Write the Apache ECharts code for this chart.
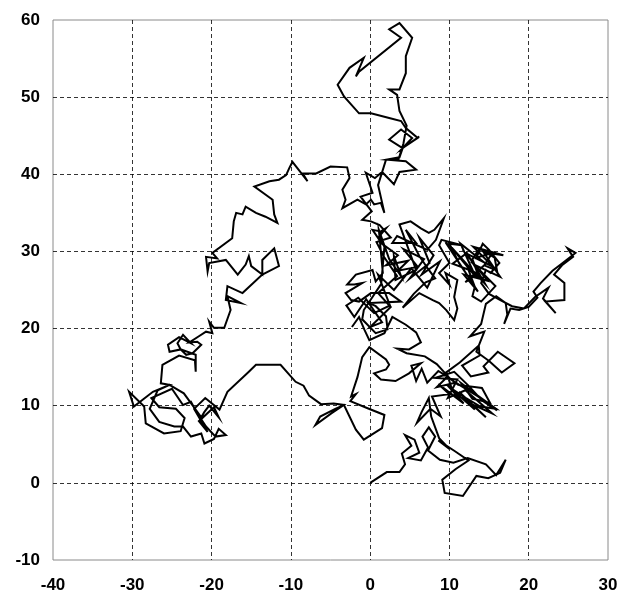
<!DOCTYPE html>
<html>
<head>
<meta charset="utf-8">
<script src="https://cdn.jsdelivr.net/npm/echarts@6/dist/echarts.min.js"></script>
<style>
html,body{margin:0;padding:0;background:#fff;}
#chart{width:623px;height:597px;}
</style>
</head>
<body>
<div id="chart"></div>
<script>
// Axis ranges / ticks
var xTicks = [-40, -30, -20, -10, 0, 10, 20, 30];
var yTicks = [-10, 0, 10, 20, 30, 40, 50, 60];

// Random-walk path, in walk order (x, y)
var segStart = [
  [0,0],[2.1,1.4],[3.7,1.4],[4.4,2.4],[4.0,3.8],[5.2,4.8],[4.4,6.2],[5.6,5.6],[6.2,3.9],[4.8,3.2],
  [6.4,2.9],[7.3,4.6],[6.6,6.0],[7.4,7.2],[8.2,6.0],[7.3,4.2],[8.8,3.0],[10.5,2.6],[12.3,3.2],[14.6,2.4],
  [15.9,1.0],[17.1,3.0],[16.4,1.3],[14.9,0.6],[13.4,0.9],[11.7,-1.7],[9.4,-1.3],[9.1,0.4],[10.8,1.8],[12.4,2.9],
  [10.7,4.1],[8.6,5.5],[10.0,4.4],[8.7,5.8],[7.7,8.6],[7.4,11.0],[6.5,9.2],[5.9,7.8],[7.6,9.6],[8.9,8.6],[7.8,11.2]
];
var segBandDense = [
  [10.0,11.5],[8.6,12.8],[11.8,10.3],[9.7,12.7],[13.2,9.5],[11.2,11.8],[14.6,8.5],[12.8,10.2],[15.4,9.0],[12.0,12.0],
  [9.8,11.0],[11.0,13.4],[8.2,13.6],[10.6,14.4],[12.4,12.6],[14.2,10.6],[16.0,9.4],[13.6,11.2],[10.8,13.0]
];
var segMidBand = [
  [8.4,12.4],[9.8,13.8],[10.3,12.2],[12.1,11.0],[13.9,9.9],[15.9,9.6],[13.3,11.5],[11.5,12.9],[12.9,10.9],[15.1,10.4],
  [14.1,12.3],[11.1,12.7],[9.3,14.1],[11.3,15.6],[13.7,17.8],[13.8,16.5],[11.6,15.2],[12.7,13.8],[14.9,14.3],[14.3,15.1],
  [16.1,17.0],[18.2,15.5],[16.6,14.3],[15.0,15.8],[13.4,17.0],[14.4,19.6],[12.6,19.0],[14.0,20.6],[14.6,23.2],[15.9,24.2],
  [17.1,23.3],[17.3,21.8],[16.9,20.6],[17.7,22.6]
];
var segFarRight = [
  [18.8,22.4],[20.0,22.8],[21.1,24.0],[20.6,24.8],[21.5,25.9],[23.0,27.5],[24.4,28.6],[25.9,29.8],[24.9,30.4],[25.6,29.3],
  [24.2,28.2],[23.2,27.0],[24.5,25.9],[24.5,23.7],[22.1,23.5],[23.4,22.0],[21.8,23.9],[22.5,25.3],[20.8,24.1],[19.4,22.6],
  [17.9,22.9],[16.6,23.6]
];
var segRightCluster = [
  [15.0,24.5],[14.0,25.9],[14.6,27.6],[15.2,27.2],[16.3,28.5],[15.0,30.2],[14.2,31.0],[13.4,29.2],[15.4,29.8],[14.4,28.2],
  [16.0,27.5],[15.7,29.2],[13.8,30.4],[12.9,29.0],[13.6,27.0],[12.3,27.9],[13.2,25.4],[12.9,24.2],[14.0,23.5],[15.8,25.5],
  [13.1,28.3],[16.4,26.7],[14.3,29.9],[16.8,29.5],[13.0,30.6],[15.5,28.0],[12.0,29.8],[14.8,26.2],[11.8,27.0],[13.6,24.8],
  [9.5,31.2],[12.5,28.0],[10.3,30.5],[13.4,26.6],[11.0,29.6],[14.5,25.8],[12.2,29.8],[10.4,28.4],[13.0,27.4],[11.4,31.0],
  [14.6,28.4],[12.0,26.0],[12.6,26.4],[11.2,28.5],[10.0,31.0],[11.6,30.8],[9.0,31.5],[8.7,30.8]
];
var segCenter = [
  [10.0,28.5],[8.7,27.2],[10.0,25.7],[9.5,27.2],[11.0,26.3],[10.6,24.1],[11.0,22.6],[10.6,21.1],[9.6,22.4],[8.7,23.3],
  [7.9,23.7],[6.2,24.6],[4.1,22.7],[5.5,24.5],[7.0,26.0],[8.2,26.5],[7.4,27.6],[6.2,29.4],[4.5,32.8],[5.8,31.1],
  [2.8,31.1],[3.4,32.0],[7.2,30.2],[8.3,31.5],[9.3,34.3],[8.1,32.8],[7.4,32.4],[6.4,33.0],[5.1,33.9],[3.7,33.5],
  [5.8,27.6],[3.2,26.3],[3.0,29.4],[3.9,26.8],[2.4,29.0],[1.1,32.8],[1.6,27.2],[0.7,26.1],[0.3,27.6],[-1.8,27.0],
  [-2.9,25.7],[-2.0,25.7],[-1.0,25.9],[-3.1,24.6],[-2.4,23.7],[-1.4,23.5],[0.1,24.6],[2.4,24.6],[3.9,23.5],[-0.1,23.3],
  [0.7,22.9],[2.0,21.6],[2.2,19.9],[0.7,19.4],[-1.0,21.2],[-0.8,22.4],[1.4,25.8],[1.8,30.6],[1.1,31.9],[2.0,33.0],
  [1.35,32.6],[0.3,32.8]
];
var segCenterDense = [
  [1.5,31.0],[3.5,29.5],[2.0,28.2],[4.8,28.8],[3.5,27.5],[6.0,28.0],[4.2,30.3],[6.8,29.0],[5.0,26.5],[7.5,28.5],
  [6.2,31.8],[8.0,29.5],[6.5,27.0],[8.8,28.7],[7.2,25.3],[5.2,27.8],[3.0,25.0],[1.0,27.0],[2.5,23.0],[0.5,22.0],
  [-1.5,24.0],[-3.0,23.0],[-2.0,21.5],[-0.5,23.8],[1.5,20.8],[0.0,20.2],[2.6,22.8],[1.0,24.6],[3.4,26.8],[1.8,29.2],
  [0.8,31.2],[2.6,31.8],[1.2,33.4]
];
var segTop = [
  [0.1,33.9],[-1.0,34.1],[0.2,35.2],[-1.2,37.1],[0.3,37.6],[-0.55,40.2],[0.6,39.5],[1.5,40.3],[3.0,38.7],[3.7,40.3],
  [5.8,40.6],[4.5,41.7],[2.1,41.9],[3.7,42.2],[4.1,43.4],[2.4,44.5],[3.9,45.8],[5.3,44.7],[4.1,43.4],[6.2,44.9],
  [4.4,43.6],[6.0,44.7],[4.5,46.0],[3.9,46.9],[2.4,47.3],[0.1,47.9],[-1.4,47.9],[-3.3,50.1],[-4.1,51.6],[-2.6,53.8],
  [-0.8,55.1],[-1.8,52.7],[-1.4,53.3],[3.9,57.7],[2.4,58.8],[3.7,59.6],[5.3,57.7],[4.5,55.3],[4.5,53.1],[3.7,51.0],
  [2.4,51.0],[3.4,50.3],[3.7,48.2],[4.6,46.3],[4.2,44.0],[3.6,42.0],[2.0,41.9],[1.0,38.6],[1.8,35.0],[1.35,36.3],
  [0.5,36.1],[0.1,36.7],[-0.55,36.1],[-1.6,36.7],[-3.5,35.6],[-3.1,36.7],[-3.5,38.0],[-2.6,39.5],[-2.9,40.9]
];
var segLeftArch = [
  [-5.0,41.0],[-6.8,40.1],[-8.5,40.1],[-7.9,39.1],[-9.8,41.6],[-10.2,40.8],[-10.6,39.9],[-11.5,39.3],[-12.7,39.1],[-14.6,38.4],
  [-12.3,36.7],[-12.1,34.8],[-11.7,33.7],[-13.2,34.5],[-14.4,35.0],[-15.7,35.8],[-16.1,34.8],[-16.9,35.0],[-17.2,33.9],[-17.4,31.7],
  [-19.9,29.8],[-19.3,29.1],[-20.7,29.3],[-20.5,27.4],[-20.3,28.5],[-18.2,28.9],[-16.7,27.0],[-15.7,28.3],[-15.3,29.4],[-15.0,28.1],
  [-13.6,27.0],[-13.6,28.9],[-12.1,30.4],[-11.5,28.1],[-13.6,27.0],[-16.1,24.6],[-18.0,25.5],[-18.2,23.7],[-16.3,23.3],[-18.0,24.2],
  [-17.6,22.4],[-18.4,20.1],[-19.7,20.1],[-20.3,20.9],[-19.9,19.4],[-20.7,19.6],[-21.6,19.0]
];
var segBottomLeft = [
  [-22.8,18.2],[-21.8,18.3],[-21.3,17.9],[-22.4,16.8],[-23.2,16.6],[-23.9,17.3],[-24.3,18.1],[-23.6,19.2],[-22.6,18.1],[-24.1,18.9],
  [-25.5,17.9],[-25.3,17.0],[-23.9,17.3],[-22.0,16.6],[-22.0,14.4],[-22.1,15.9],[-24.1,16.5],[-26.2,15.3],[-26.4,12.9],[-25.3,12.7],
  [-27.4,11.8],[-29.8,9.9],[-30.4,11.8],[-28.5,9.9],[-28.3,7.7],[-26.0,6.4],[-23.9,6.7],[-23.4,8.4],[-24.5,9.6],[-26.6,9.8],
  [-27.6,11.0],[-25.0,12.2],[-23.6,10.1],[-22.6,10.5],[-21.8,9.0],[-20.7,7.3],[-19.5,6.0],[-18.2,6.2],[-19.1,7.0],[-19.7,5.7],
  [-20.9,5.1],[-21.3,6.4],[-22.6,6.0],[-23.6,7.3],[-24.7,7.3],[-26.6,7.9],[-27.8,9.6],[-26.8,12.0],[-25.3,12.7],[-23.5,11.6],
  [-21.3,8.5],[-20.9,9.2],[-20.3,10.0],[-19.1,8.5],[-19.7,9.8],[-21.6,8.0],[-20.5,6.6],[-22.2,9.6],[-20.8,11.0],[-19.0,9.5],
  [-18.0,11.8],[-15.3,14.4],[-14.4,15.3],[-11.3,15.3],[-9.4,13.1]
];
var segEnd = [
  [-8.4,12.6],[-7.7,11.3],[-6.2,10.2],[-4.6,10.3],[-3.3,10.1],[-4.9,9.0],[-6.9,7.5],[-6.3,8.6],[-4.4,9.6],[-3.3,10.1],
  [-1.8,6.9],[-0.8,5.6],[1.5,7.1],[1.8,8.8],[-0.4,9.7],[-2.5,10.6],[-1.8,11.5],[-2.4,11.2],[-1.6,13.7],[-1.0,16.3],
  [-0.1,17.6],[2.0,16.0],[2.4,15.3],[2.0,14.7],[0.5,14.2],[1.35,13.4],[3.2,13.2],[4.9,14.2],[6.4,15.5],[5.2,15.2],
  [5.8,13.2],[6.5,14.8],[7.2,13.0],[8.6,14.5],[10.0,13.6],[8.4,15.4],[6.9,16.4],[4.6,16.8],[3.4,17.4],[4.9,17.3],
  [6.4,18.2],[5.8,19.5],[4.5,20.5],[2.8,21.5],[1.8,19.4],[-0.1,18.5],[-0.7,19.8],[-1.4,21.5],[-2.3,20.2]
];

var walk = [].concat(segStart, segBandDense, segMidBand, segFarRight, segRightCluster, segCenter,
                     segCenterDense, segTop, segLeftArch, segBottomLeft, segEnd);

var chart = echarts.init(document.getElementById('chart'), null, {renderer: 'canvas'});
var labelFont = {color: '#000', fontSize: 17, fontWeight: 'bold', fontFamily: 'Liberation Sans, Arial, sans-serif'};
var split = {show: true, showMinLine: false, showMaxLine: false,
             lineStyle: {type: [4, 3], color: '#000', width: 0.8}};
chart.setOption({
  animation: false,
  backgroundColor: '#fff',
  grid: {left: 53, right: 15, top: 20, bottom: 37, show: true, borderColor: '#8a8a8a', borderWidth: 1},
  xAxis: {
    type: 'value', min: xTicks[0], max: xTicks[xTicks.length - 1], interval: 10,
    axisLine: {show: false}, axisTick: {show: false}, splitLine: split,
    axisLabel: Object.assign({margin: 17}, labelFont)
  },
  yAxis: {
    type: 'value', min: yTicks[0], max: yTicks[yTicks.length - 1], interval: 10,
    axisLine: {show: false}, axisTick: {show: false}, splitLine: split,
    axisLabel: Object.assign({margin: 13}, labelFont)
  },
  series: [{
    type: 'line', data: walk, showSymbol: false, symbol: 'none',
    lineStyle: {color: '#000', width: 2, join: 'miter'}, z: 5
  }]
});
</script>
</body>
</html>
